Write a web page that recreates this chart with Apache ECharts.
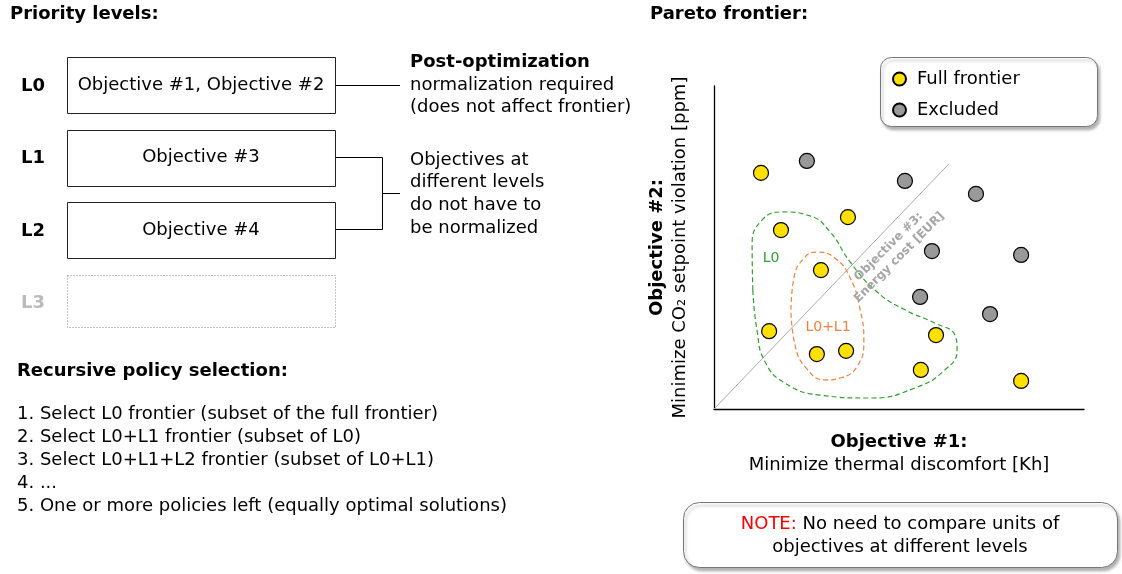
<!DOCTYPE html>
<html>
<head>
<meta charset="utf-8">
<script src="https://cdn.jsdelivr.net/npm/echarts@6/dist/echarts.min.js"></script>
<style>
html, body { margin: 0; padding: 0; background: #fff; }
#main { width: 1122px; height: 574px; }
</style>
</head>
<body>
<div id="main"></div>
<script>
// points on the pareto plot (axis units 0-100, no scale shown)
const frontierPoints = [[12.7, 73.1], [18.1, 55.4], [36.2, 59.4], [28.9, 43.0], [14.9, 24.1],
    [27.8, 17.0], [35.7, 18.0], [60.0, 22.9], [55.9, 12.1], [83.0, 8.7]];
const excludedPoints = [[25.1, 76.8], [51.6, 70.6], [70.8, 66.6], [58.9, 48.9], [83.0, 47.7],
    [55.7, 34.7], [74.6, 29.4]];
const objective3Line = [[0, 0], [63.5, 75.9]];
const l0Hull = [[10.5, 36.8], [10.3, 50.8], [13.0, 58.5], [18.6, 61.0], [25.9, 59.8], [31.4, 54.8],
    [36.8, 45.5], [44.1, 36.2], [51.6, 30.7], [59.7, 26.6], [65.1, 22.9], [65.7, 18.3], [62.4, 12.1],
    [54.3, 6.5], [42.2, 3.4], [28.6, 4.3], [19.2, 8.0], [13.8, 14.6], [11.6, 24.5], [10.5, 36.8]];
const l1Hull = [[20.8, 30.7], [21.6, 40.6], [24.1, 46.4], [27.8, 48.6], [32.7, 46.7], [36.8, 40.6],
    [39.5, 30.7], [40.5, 21.4], [38.9, 13.6], [34.1, 9.6], [30.0, 9.0], [24.9, 12.7], [21.9, 19.8],
    [20.8, 30.7]];

const levelLabels = ['L0', 'L1', 'L2', 'L3'];
const levelObjectives = ['Objective #1, Objective #2', 'Objective #3', 'Objective #4', ''];
const postOptText = ['normalization required', '(does not affect frontier)'];
const levelsNote = ['Objectives at', 'different levels', 'do not have to', 'be normalized'];
const selectionSteps = [
    '1. Select L0 frontier (subset of the full frontier)',
    '2. Select L0+L1 frontier (subset of L0)',
    '3. Select L0+L1+L2 frontier (subset of L0+L1)',
    '4. ...',
    '5. One or more policies left (equally optimal solutions)',
];

const FONT = 'DejaVu Sans';
const yellow = '#ffe000';
const grey = '#999999';
const green = '#2ea12e';
const orange = '#f2823e';

function txt(x, y, text, opts) {
    return {
        type: 'text',
        x: x,
        y: y,
        silent: true,
        z: 10,
        style: Object.assign({
            text: text,
            fontFamily: FONT,
            fontSize: 18,
            fill: '#000',
            align: 'left',
            verticalAlign: 'middle',
        }, opts || {}),
    };
}

const graphics = [];

// titles
graphics.push(txt(10, 14, 'Priority levels:', { fontWeight: 'bold' }));
graphics.push(txt(650, 14, 'Pareto frontier:', { fontWeight: 'bold' }));
graphics.push(txt(17, 371, 'Recursive policy selection:', { fontWeight: 'bold' }));

// level boxes
levelLabels.forEach((lab, i) => {
    const top = 57 + i * 72.5;
    const last = i === levelLabels.length - 1;
    graphics.push(txt(33, top + 29, lab, {
        fontWeight: 'bold', align: 'center', fill: last ? '#bbbbbb' : '#000',
    }));
    graphics.push({
        type: 'rect',
        silent: true,
        shape: { x: 67.5, y: Math.round(top) + 0.5, width: 268, height: last ? 52 : 56 },
        style: {
            fill: 'none',
            stroke: last ? '#888' : '#222',
            lineWidth: 1,
            lineDash: last ? [1, 2] : null,
        },
    });
    if (levelObjectives[i]) {
        graphics.push(txt(201, top + 28, levelObjectives[i], { align: 'center' }));
    }
});

// connector L0 -> post-optimization note
graphics.push({
    type: 'polyline', silent: true,
    shape: { points: [[336, 85.5], [400, 85.5]] },
    style: { stroke: '#000', lineWidth: 1, fill: 'none' },
});
graphics.push(txt(410, 62, 'Post-optimization', { fontWeight: 'bold' }));
postOptText.forEach((t, i) => graphics.push(txt(410, 85 + i * 22.5, t)));

// bracket L1/L2 -> note
graphics.push({
    type: 'polyline', silent: true,
    shape: { points: [[336, 157.5], [382.5, 157.5], [382.5, 229.5], [336, 229.5]] },
    style: { stroke: '#000', lineWidth: 1, fill: 'none' },
});
graphics.push({
    type: 'polyline', silent: true,
    shape: { points: [[382.5, 193.5], [400, 193.5]] },
    style: { stroke: '#000', lineWidth: 1, fill: 'none' },
});
levelsNote.forEach((t, i) => graphics.push(txt(410, 160 + i * 22.7, t)));

// recursive selection list
selectionSteps.forEach((t, i) => graphics.push(txt(17, 414 + i * 23, t)));

const boxStyle = {
    fill: '#fff', stroke: '#777', lineWidth: 1,
    shadowColor: 'rgba(0,0,0,0.3)', shadowBlur: 3, shadowOffsetX: 2, shadowOffsetY: 3,
};

// legend box
graphics.push({
    type: 'rect', silent: true, z: 1,
    shape: { x: 880.5, y: 57.5, width: 217, height: 69, r: 11 },
    style: boxStyle,
});

// note box
graphics.push({
    type: 'rect', silent: true, z: 1,
    shape: { x: 683.5, y: 502.5, width: 434, height: 65, r: 16 },
    style: boxStyle,
});
graphics.push({
    type: 'text', silent: true, z: 10,
    x: 900, y: 535.5,
    style: {
        text: '{r|NOTE:} No need to compare units of\nobjectives at different levels',
        fontFamily: FONT, fontSize: 18, lineHeight: 23, fill: '#000',
        align: 'center', verticalAlign: 'middle',
        rich: { r: { fill: '#ff0000', fontFamily: FONT, fontSize: 18 } },
    },
});

// in-plot annotations
graphics.push(txt(771, 258, 'L0', { fontSize: 14, align: 'center', fill: green }));
graphics.push(txt(828, 327, 'L0+L1', { fontSize: 14, align: 'center', fill: orange }));
graphics.push({
    type: 'text', silent: true, z: 10,
    x: 894, y: 252, rotation: Math.PI / 4,
    style: {
        text: 'Objective #3:\nEnergy cost [EUR]',
        fontFamily: FONT, fontSize: 12, fontWeight: 'bold', lineHeight: 15,
        fill: '#a6a6a6', align: 'center', verticalAlign: 'middle',
    },
});

const chart = echarts.init(document.getElementById('main'));
chart.setOption({
    animation: false,
    backgroundColor: '#fff',
    textStyle: { fontFamily: FONT },
    grid: { left: 714, top: 86, width: 370, height: 323, containLabel: false },
    legend: {
        orient: 'vertical',
        left: 887,
        top: 65,
        z: 5,
        padding: 5,
        itemWidth: 13,
        itemHeight: 13,
        itemGap: 13,
        icon: 'circle',
        textStyle: { fontFamily: FONT, fontSize: 18, color: '#000', padding: [0, 0, 0, 6] },
        data: ['Full frontier', 'Excluded'],
    },
    xAxis: {
        type: 'value', min: 0, max: 100,
        axisLine: { show: true, lineStyle: { color: '#000', width: 1.3 } },
        axisTick: { show: false }, axisLabel: { show: false }, splitLine: { show: false },
        name: '{b|Objective #1:}\n{n|Minimize thermal discomfort [Kh]}',
        nameLocation: 'middle',
        nameGap: 22,
        nameTextStyle: {
            lineHeight: 23,
            rich: {
                b: { fontFamily: FONT, fontSize: 18, fontWeight: 'bold', color: '#000', lineHeight: 23 },
                n: { fontFamily: FONT, fontSize: 18, color: '#000', lineHeight: 23 },
            },
        },
    },
    yAxis: {
        type: 'value', min: 0, max: 100,
        axisLine: { show: true, lineStyle: { color: '#000', width: 1.3 } },
        axisTick: { show: false }, axisLabel: { show: false }, splitLine: { show: false },
        name: '{b|Objective #2:}\n{n|Minimize CO\u2082 setpoint violation [ppm]}',
        nameLocation: 'middle',
        nameRotate: 90,
        nameGap: 22,
        nameTextStyle: {
            lineHeight: 23,
            rich: {
                b: { fontFamily: FONT, fontSize: 18, fontWeight: 'bold', color: '#000', lineHeight: 23 },
                n: { fontFamily: FONT, fontSize: 18, color: '#000', lineHeight: 23 },
            },
        },
    },
    series: [
        {
            name: 'Objective #3', type: 'line', data: objective3Line, symbol: 'none', silent: true, z: 1,
            lineStyle: { color: '#aaaaaa', width: 1 },
        },
        {
            name: 'L0', type: 'line', data: l0Hull, symbol: 'none', silent: true, smooth: 0.5, z: 2,
            lineStyle: { color: green, width: 1.2, type: [5, 3] },
        },
        {
            name: 'L0+L1', type: 'line', data: l1Hull, symbol: 'none', silent: true, smooth: 0.5, z: 2,
            lineStyle: { color: orange, width: 1.2, type: [5, 3] },
        },
        {
            name: 'Full frontier', type: 'scatter', data: frontierPoints, symbolSize: 15, z: 3,
            itemStyle: { color: yellow, borderColor: '#000', borderWidth: 1.2, opacity: 1 },
        },
        {
            name: 'Excluded', type: 'scatter', data: excludedPoints, symbolSize: 15, z: 3,
            itemStyle: { color: grey, borderColor: '#000', borderWidth: 1.2, opacity: 1 },
        },
    ],
    graphic: graphics,
});
</script>
</body>
</html>
